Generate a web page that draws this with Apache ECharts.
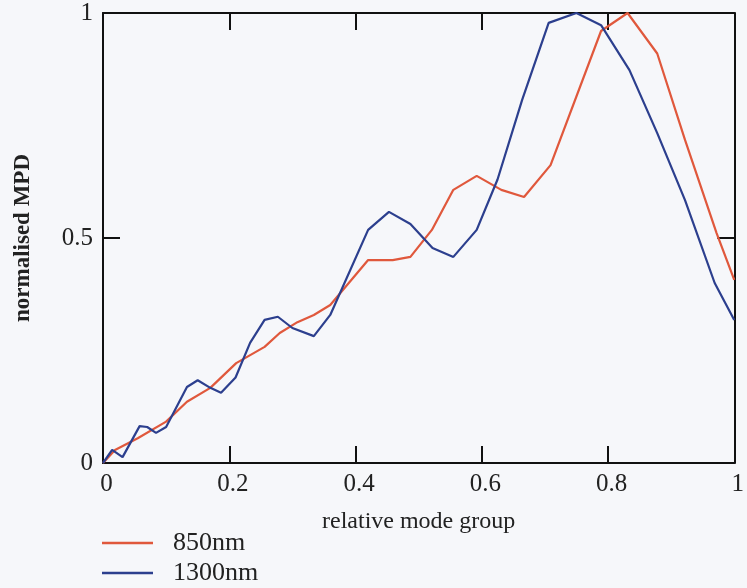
<!DOCTYPE html>
<html>
<head>
<meta charset="utf-8">
<script src="https://cdn.jsdelivr.net/npm/echarts@6/dist/echarts.min.js"></script>
<style>
html,body{margin:0;padding:0;background:#f6f7fa;}
#c{width:747px;height:588px;}
</style>
</head>
<body>
<div id="c"></div>
<script>
var xTicks = [0, 0.2, 0.4, 0.6, 0.8, 1];
var yTicks = [0, 0.5, 1];

var x850 = [0, 0.019, 0.055, 0.1, 0.133, 0.17, 0.211, 0.256, 0.28, 0.308, 0.334, 0.36, 0.42, 0.459, 0.487, 0.521, 0.555, 0.592, 0.631, 0.667, 0.709, 0.789, 0.831, 0.878, 0.922, 0.972, 1.0];
var y850 = [0, 0.029, 0.055, 0.092, 0.136, 0.167, 0.222, 0.258, 0.289, 0.313, 0.329, 0.351, 0.451, 0.451, 0.458, 0.518, 0.607, 0.638, 0.607, 0.591, 0.662, 0.96, 1.0, 0.91, 0.718, 0.511, 0.407];

var x1300 = [0, 0.0145, 0.031, 0.058, 0.07, 0.084, 0.1, 0.133, 0.15, 0.17, 0.187, 0.21, 0.233, 0.256, 0.277, 0.3, 0.334, 0.36, 0.42, 0.453, 0.487, 0.522, 0.555, 0.592, 0.625, 0.664, 0.706, 0.75, 0.789, 0.834, 0.878, 0.922, 0.969, 1.0];
var y1300 = [0, 0.029, 0.013, 0.082, 0.08, 0.067, 0.08, 0.169, 0.184, 0.167, 0.156, 0.19, 0.267, 0.318, 0.325, 0.3, 0.282, 0.329, 0.518, 0.558, 0.531, 0.478, 0.458, 0.518, 0.63, 0.807, 0.978, 1.0, 0.973, 0.873, 0.733, 0.584, 0.4, 0.318];

function pairs(xs, ys){ return xs.map(function(x,i){ return [x, ys[i]]; }); }
function pick(list){ return function(v){ var s = list.filter(function(t){return Math.abs(t-v)<1e-9;}); return s.length? String(s[0]) : ''; }; }

var font = "'Liberation Serif', 'DejaVu Serif', serif";
var chart = echarts.init(document.getElementById('c'), null, {renderer:'canvas'});
var axLine = {show:true, onZero:false, lineStyle:{color:'#111', width:2}};
var tickIn = {show:true, inside:true, length:17, lineStyle:{color:'#111', width:2}};
chart.setOption({
  backgroundColor:'#f6f7fa',
  animation:false,
  grid:{left:103, top:13, width:640, height:450, containLabel:false},
  legend:{
    orient:'vertical', left:102, top:530, padding:0, icon:'rect', itemWidth:51, itemHeight:2.5, itemGap:4,
    textStyle:{fontFamily:font, fontSize:26, lineHeight:26, color:'#222', padding:[0,0,0,15]},
    data:['850nm','1300nm']
  },
  xAxis:[{
    type:'value', min:0, max:1, interval:0.2, position:'bottom',
    axisLine:axLine, axisTick:tickIn, splitLine:{show:false},
    axisLabel:{fontFamily:font, fontSize:25, color:'#222', margin:9, padding:[0,0,0,7], formatter:pick(xTicks)},
    name:'relative mode group', nameLocation:'middle', nameGap:47,
    nameTextStyle:{fontFamily:font, fontSize:24, color:'#222'}
  },{
    type:'value', min:0, max:1, interval:0.2, position:'top',
    axisLine:axLine, axisTick:tickIn, splitLine:{show:false}, axisLabel:{show:false}
  }],
  yAxis:[{
    type:'value', min:0, max:1, interval:0.5, position:'left',
    axisLine:axLine, axisTick:tickIn, splitLine:{show:false},
    axisLabel:{fontFamily:font, fontSize:25, color:'#222', margin:10, padding:[6,0,0,0], formatter:pick(yTicks)},
    name:'normalised MPD', nameLocation:'middle', nameGap:68,
    nameTextStyle:{fontFamily:font, fontSize:23, fontWeight:'bold', color:'#222'}
  },{
    type:'value', min:0, max:1, interval:0.5, position:'right',
    axisLine:axLine, axisTick:tickIn, splitLine:{show:false}, axisLabel:{show:false}
  }],
  series:[{
    name:'850nm', type:'line', data:pairs(x850, y850), symbol:'none',
    lineStyle:{color:'#e0583c', width:2.2}, itemStyle:{color:'#e0583c'}
  },{
    name:'1300nm', type:'line', data:pairs(x1300, y1300), symbol:'none',
    lineStyle:{color:'#2c3f8e', width:2.2}, itemStyle:{color:'#2c3f8e'}
  }]
});
</script>
</body>
</html>
